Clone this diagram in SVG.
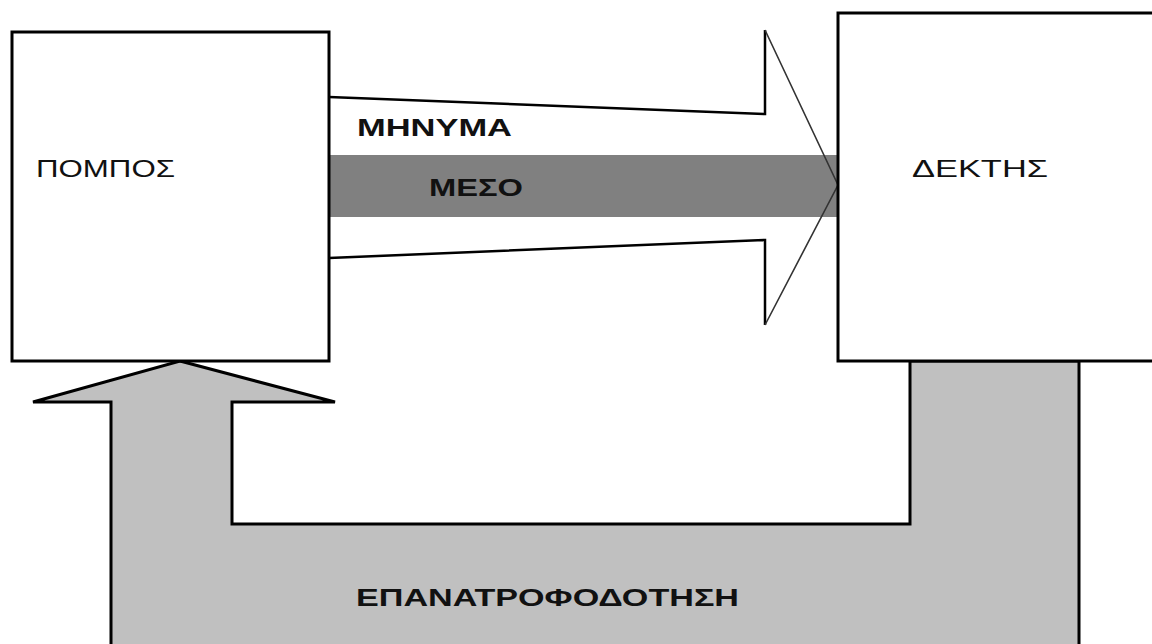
<svg xmlns="http://www.w3.org/2000/svg" width="1152" height="644" viewBox="0 0 1152 644">
  <style>
    .box { fill: #ffffff; stroke: #000000; stroke-width: 3; }
    .lbl { font-family: "Liberation Sans", Arial, sans-serif; font-size: 24px; fill: #111111; }
    .bold { font-weight: bold; }
    .edge { fill: none; stroke: #000000; stroke-width: 2.5; }
    .head { fill: none; stroke: #333333; stroke-width: 1.6; }
  </style>
  <rect width="1152" height="644" fill="#ffffff"/>

  <g id="connectors">
    <!-- feedback arrow: receiver back to sender -->
    <g id="feedback">
      <polygon points="180,361 335,402 232,402 232,524 910,524 910,361 1079,361 1079,650 111,650 111,402 33,402" fill="#c0c0c0" stroke="#000000" stroke-width="3" stroke-linejoin="miter"/>
      <text class="lbl bold" x="356" y="606" textLength="383" lengthAdjust="spacingAndGlyphs">ΕΠΑΝΑΤΡΟΦΟΔΟΤΗΣΗ</text>
    </g>
    <!-- message arrow: sender to receiver -->
    <g id="message">
      <polygon points="329,97 765,114 765,30 838,185 765,325 765,240 329,258" fill="#ffffff"/>
      <polyline class="edge" points="329,97 765,114 765,30"/>
      <polyline class="edge" points="329,258 765,240 765,325"/>
      <rect id="channel" x="329" y="155" width="509" height="62" fill="#808080"/>
      <polyline class="head" points="765,30 838,185 765,325"/>
      <text class="lbl bold" x="357" y="136" textLength="155" lengthAdjust="spacingAndGlyphs">ΜΗΝΥΜΑ</text>
      <text class="lbl bold" x="429" y="196" textLength="94" lengthAdjust="spacingAndGlyphs">ΜΕΣΟ</text>
    </g>
  </g>

  <g id="sender">
    <rect class="box" x="12" y="32" width="317" height="329"/>
    <text class="lbl" x="36" y="177" textLength="139" lengthAdjust="spacingAndGlyphs">ΠΟΜΠΟΣ</text>
  </g>

  <g id="receiver">
    <rect class="box" x="838" y="13" width="320" height="348"/>
    <text class="lbl" x="912" y="177" textLength="136" lengthAdjust="spacingAndGlyphs">ΔΕΚΤΗΣ</text>
  </g>
</svg>
